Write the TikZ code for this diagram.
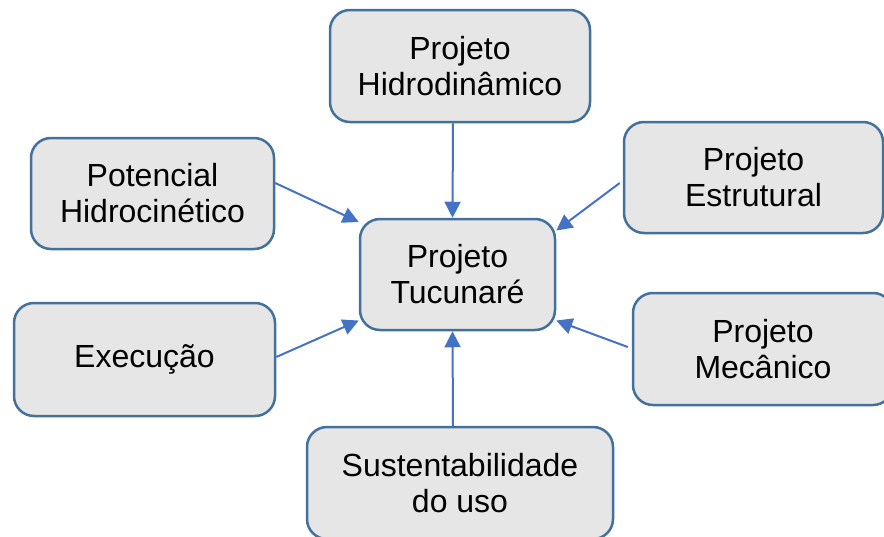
\documentclass[tikz,border=0pt]{standalone}
\usepackage{fontspec}
\setmainfont{Liberation Sans}
\usepackage{xcolor}
\usetikzlibrary{arrows.meta,calc}
\definecolor{boxfill}{HTML}{E7E6E6}
\definecolor{boxline}{HTML}{41719C}
\definecolor{arrowblue}{HTML}{4472C4}
\begin{document}
\begin{tikzpicture}[
    x=0.5pt, y=-0.5pt,
    topic/.style={rectangle, rounded corners=10pt, draw=boxline, line width=1.25pt, fill=boxfill, inner sep=0pt, align=center, font=\fontsize{16}{18}\selectfont},
    arrow/.style={-{Triangle[length=8pt,width=8pt]}, draw=arrowblue, line width=1pt}
]
\useasboundingbox (0,0) rectangle (884,536);
\clip (0,0) rectangle (884,536);
\node[topic, minimum width=130pt, minimum height=56pt] (hid) at (460,66) {Projeto\\Hidrodinâmico};
\node[topic, minimum width=121.5pt, minimum height=55.5pt] (pot) at (152.5,193.5) {Potencial\\Hidrocinético};
\node[topic, minimum width=129.5pt, minimum height=55.5pt] (est) at (753.5,177.5) {Projeto\\Estrutural};
\node[topic, minimum width=97.5pt, minimum height=55.5pt] (tuc) at (457.5,274.5) {Projeto\\Tucunaré};
\node[topic, minimum width=130.5pt, minimum height=56.5pt] (exe) at (144.5,359.5) {Execução};
\node[topic, minimum width=130pt, minimum height=56pt] (mec) at (763,349) {Projeto\\Mecânico};
\node[topic, minimum width=153pt, minimum height=56pt] (sus) at (460,483) {Sustentabilidade\\do uso};
\draw[arrow] ($(hid.south)+(-7,0)$) -- ($(tuc.north)+(-5,0)$);
\draw[arrow] ($(pot.east)+(0,-10.5)$) -- (tuc.152);
\draw[arrow] ($(est.west)+(-3,5.5)$) -- (tuc.24);
\draw[arrow] ($(exe.east)+(0,-2.5)$) -- (tuc.205);
\draw[arrow] ($(mec.west)+(-4,-2)$) -- (tuc.335);
\draw[arrow] ($(sus.north)+(-7,0)$) -- ($(tuc.south)+(-5,0)$);
\end{tikzpicture}
\end{document}
